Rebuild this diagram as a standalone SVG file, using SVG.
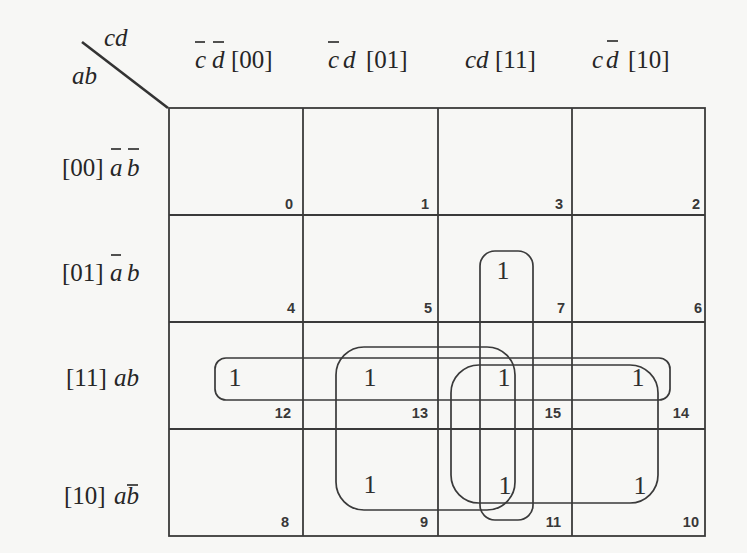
<svg xmlns="http://www.w3.org/2000/svg" width="747" height="553" viewBox="0 0 747 553">
<style>
.t { font-family: "Liberation Serif", serif; font-size: 25px; fill: #262626; }
.it { font-style: italic; }
.one { font-family: "Liberation Serif", serif; font-size: 26px; fill: #2e2e2e; text-anchor: middle; }
.num { font-family: "Liberation Sans", sans-serif; font-size: 14.5px; font-weight: bold; fill: #383838; text-anchor: end; }
.grid { stroke: #3a3a3a; stroke-width: 1.8; fill: none; }
.loop { stroke: #3a3a3a; stroke-width: 1.7; fill: none; }
.bar { stroke: #262626; stroke-width: 1.6; }
</style>
<rect x="0" y="0" width="747" height="553" fill="#f7f7f5"/>

<g id="corner">
  <line x1="82" y1="42" x2="168" y2="108" stroke="#333" stroke-width="2.6"/>
  <text class="t it" x="104" y="46">cd</text>
  <text class="t it" x="72" y="84">ab</text>
</g>

<g id="col-headers">
  <g id="h00">
    <text class="t it" x="195" y="68">c</text>
    <text class="t it" x="212" y="68">d</text>
    <text class="t" x="231" y="68">[00]</text>
    <line class="bar" x1="195" y1="42" x2="205" y2="42"/>
    <line class="bar" x1="213" y1="42" x2="224" y2="42"/>
  </g>
  <g id="h01">
    <text class="t it" x="328" y="68">c</text>
    <text class="t it" x="343" y="68">d</text>
    <text class="t" x="366" y="68">[01]</text>
    <line class="bar" x1="328" y1="42" x2="339" y2="42"/>
  </g>
  <g id="h11">
    <text class="t it" x="465" y="68">cd</text>
    <text class="t" x="495" y="68">[11]</text>
  </g>
  <g id="h10">
    <text class="t it" x="592" y="68">c</text>
    <text class="t it" x="606" y="68">d</text>
    <text class="t" x="628" y="68">[10]</text>
    <line class="bar" x1="607" y1="41" x2="618" y2="41"/>
  </g>
</g>

<g id="row-headers">
  <g id="r00">
    <text class="t" x="62" y="176">[00]</text>
    <text class="t it" x="110" y="176">a</text>
    <text class="t it" x="127" y="176">b</text>
    <line class="bar" x1="111" y1="149" x2="121" y2="149"/>
    <line class="bar" x1="128" y1="149" x2="139" y2="149"/>
  </g>
  <g id="r01">
    <text class="t" x="62" y="281">[01]</text>
    <text class="t it" x="110" y="281">a</text>
    <text class="t it" x="127" y="281">b</text>
    <line class="bar" x1="111" y1="255" x2="121" y2="255"/>
  </g>
  <g id="r11">
    <text class="t" x="66" y="386">[11]</text>
    <text class="t it" x="114" y="386">ab</text>
  </g>
  <g id="r10">
    <text class="t" x="64" y="504">[10]</text>
    <text class="t it" x="114" y="504">ab</text>
    <line class="bar" x1="127" y1="485" x2="138" y2="485"/>
  </g>
</g>

<g id="grid">
  <rect class="grid" x="169" y="108" width="536" height="428"/>
  <line class="grid" x1="303" y1="108" x2="303" y2="536"/>
  <line class="grid" x1="438" y1="108" x2="438" y2="536"/>
  <line class="grid" x1="572" y1="108" x2="572" y2="536"/>
  <line class="grid" x1="169" y1="215" x2="705" y2="215"/>
  <line class="grid" x1="169" y1="322" x2="705" y2="322"/>
  <line class="grid" x1="169" y1="429" x2="705" y2="429"/>
</g>

<g id="cells">
  <g id="m0"><text class="num" x="293" y="209">0</text></g>
  <g id="m1"><text class="num" x="429" y="209">1</text></g>
  <g id="m3"><text class="num" x="563" y="209">3</text></g>
  <g id="m2"><text class="num" x="700" y="209">2</text></g>
  <g id="m4"><text class="num" x="295" y="313">4</text></g>
  <g id="m5"><text class="num" x="432" y="313">5</text></g>
  <g id="m7"><text class="one" x="503" y="279">1</text><text class="num" x="565" y="313">7</text></g>
  <g id="m6"><text class="num" x="702" y="313">6</text></g>
  <g id="m12"><text class="one" x="235" y="386">1</text><text class="num" x="291" y="418">12</text></g>
  <g id="m13"><text class="one" x="370" y="386">1</text><text class="num" x="428" y="418">13</text></g>
  <g id="m15"><text class="one" x="504" y="386">1</text><text class="num" x="561" y="418">15</text></g>
  <g id="m14"><text class="one" x="638" y="386">1</text><text class="num" x="689" y="418">14</text></g>
  <g id="m8"><text class="num" x="289" y="527">8</text></g>
  <g id="m9"><text class="one" x="370" y="493">1</text><text class="num" x="428" y="527">9</text></g>
  <g id="m11"><text class="one" x="505" y="494">1</text><text class="num" x="561" y="527">11</text></g>
  <g id="m10"><text class="one" x="640" y="494">1</text><text class="num" x="699" y="527">10</text></g>
</g>

<g id="groupings">
  <rect class="loop" x="480" y="251" width="53" height="269" rx="15"/>
  <rect class="loop" x="336" y="347" width="179" height="163" rx="28"/>
  <rect class="loop" x="215" y="358" width="455" height="42" rx="11"/>
  <rect class="loop" x="451" y="365" width="207" height="138" rx="28"/>
</g>
</svg>
